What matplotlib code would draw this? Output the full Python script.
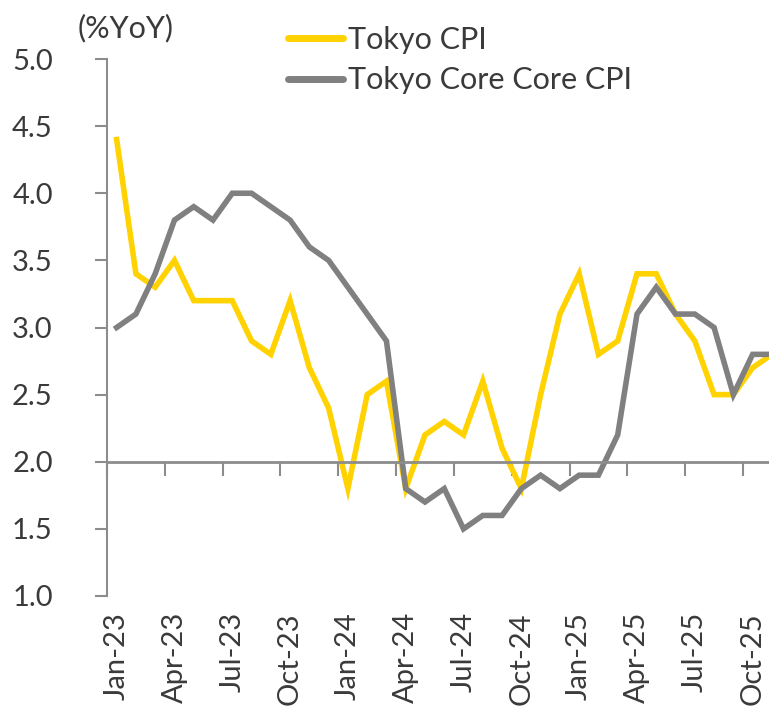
"""Tokyo CPI vs Tokyo core-core CPI, %YoY, Jan-23 to Nov-25."""

import matplotlib

matplotlib.use("Agg")

import matplotlib.pyplot as plt  # noqa: E402
from matplotlib.lines import Line2D  # noqa: E402
from matplotlib.transforms import blended_transform_factory  # noqa: E402

plt.rcParams["font.family"] = ["Lato", "DejaVu Sans"]

months = ["Jan-23", "Feb-23", "Mar-23", "Apr-23", "May-23", "Jun-23",
          "Jul-23", "Aug-23", "Sep-23", "Oct-23", "Nov-23", "Dec-23",
          "Jan-24", "Feb-24", "Mar-24", "Apr-24", "May-24", "Jun-24",
          "Jul-24", "Aug-24", "Sep-24", "Oct-24", "Nov-24", "Dec-24",
          "Jan-25", "Feb-25", "Mar-25", "Apr-25", "May-25", "Jun-25",
          "Jul-25", "Aug-25", "Sep-25", "Oct-25", "Nov-25"]
tokyo_cpi = [4.4, 3.4, 3.3, 3.5, 3.2, 3.2, 3.2, 2.9, 2.8, 3.2, 2.7, 2.4,
             1.8, 2.5, 2.6, 1.8, 2.2, 2.3, 2.2, 2.6, 2.1, 1.8, 2.5, 3.1,
             3.4, 2.8, 2.9, 3.4, 3.4, 3.1, 2.9, 2.5, 2.5, 2.7, 2.8]
tokyo_core_core = [3.0, 3.1, 3.4, 3.8, 3.9, 3.8, 4.0, 4.0, 3.9, 3.8, 3.6, 3.5,
                   3.3, 3.1, 2.9, 1.8, 1.7, 1.8, 1.5, 1.6, 1.6, 1.8, 1.9, 1.8,
                   1.9, 1.9, 2.2, 3.1, 3.3, 3.1, 3.1, 3.0, 2.5, 2.8, 2.8]
yticks = [1.0, 1.5, 2.0, 2.5, 3.0, 3.5, 4.0, 4.5, 5.0]

YELLOW = "#FFD200"
GREY = "#808080"
AXIS = "#8c8c8c"
TEXT = "#3a3a3a"

fig = plt.figure(figsize=(7.69, 7.16), dpi=100)
ax = fig.add_axes([107 / 769, 120 / 716, 662 / 769, 537 / 716])

x = list(range(len(months)))
ax.plot(x, tokyo_cpi, color=YELLOW, lw=4, solid_joinstyle="miter")
ax.plot(x, tokyo_core_core, color=GREY, lw=4, solid_joinstyle="miter")

ax.set_xlim(-0.5, 33.85)
ax.set_ylim(1.0, 5.0)

for side in ("top", "right"):
    ax.spines[side].set_visible(False)
ax.spines["left"].set_color(AXIS)
ax.spines["left"].set_linewidth(1.5)
ax.spines["bottom"].set_position(("data", 2.0))
ax.spines["bottom"].set_color(AXIS)
ax.spines["bottom"].set_linewidth(2.0)

ax.set_yticks(yticks)
ax.set_yticklabels([f"{v:.1f}" for v in yticks])
ax.tick_params(axis="y", length=9, width=1.5, color=AXIS, pad=30,
               labelsize=21, labelcolor=TEXT)

ax.set_xticks([i - 0.5 for i in range(0, len(months), 3)])
ax.tick_params(axis="x", length=10, width=1.5, color=AXIS, labelbottom=False)

trans = blended_transform_factory(ax.transData, ax.transAxes)
for i in range(0, len(months), 3):
    ax.text(i, -0.03, months[i], transform=trans, rotation=90,
            ha="center", va="top", fontsize=21, color=TEXT)

fig.text(78 / 769, 1 - 28 / 716, "(%YoY)", ha="left", va="center",
         fontsize=22, color=TEXT)

handles = [Line2D([], [], color=YELLOW, lw=5, solid_capstyle="round"),
           Line2D([], [], color=GREY, lw=5, solid_capstyle="round")]
fig.legend(handles, ["Tokyo CPI", "Tokyo Core Core CPI"],
           loc="upper left", bbox_to_anchor=(288 / 769, 1 - 26 / 716),
           frameon=False, fontsize=22, labelcolor=TEXT, handlelength=1.8,
           handletextpad=0.15, borderpad=0, borderaxespad=0,
           labelspacing=0.4)

fig.savefig("out.png", dpi=100)
plt.close(fig)
